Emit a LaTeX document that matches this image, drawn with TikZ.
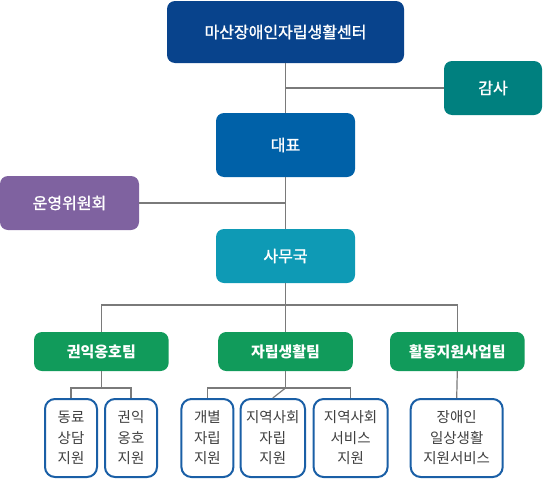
\documentclass[tikz,border=0pt]{standalone}
\usepackage{fontspec}
\setmainfont{Noto Sans CJK KR}
\newfontfamily\medfont{Noto Sans CJK KR}[FakeBold=1.4]
\definecolor{cTop}{HTML}{08438C}
\definecolor{cGam}{HTML}{00807F}
\definecolor{cDae}{HTML}{0061A8}
\definecolor{cUn}{HTML}{7F62A0}
\definecolor{cSa}{HTML}{0E9AB5}
\definecolor{cTeam}{HTML}{119B5B}
\definecolor{cLeaf}{HTML}{1A5FA6}
\definecolor{cLine}{HTML}{7A7A7A}
\definecolor{cTxt}{HTML}{404040}
\tikzset{
  box/.style={rectangle, rounded corners=8pt, inner sep=0pt, text=white, font=\medfont\fontsize{16}{19}\selectfont},
  team/.style={box, fill=cTeam, minimum width=134.6pt, minimum height=39pt, font=\fontsize{15}{18}\selectfont\bfseries},
  leaf/.style={rectangle, rounded corners=10pt, draw=cLeaf, line width=2pt, fill=white, inner sep=0pt,
    minimum height=78pt, text=cTxt, align=center, font=\fontsize{14.5}{20.5}\selectfont},
  conn/.style={draw=cLine, line width=1.2pt}
}
\begin{document}
\begin{tikzpicture}[x=1pt,y=-1pt]
\useasboundingbox (0,0) rectangle (543,479);
\node[box, fill=cTop, minimum width=237pt, minimum height=62pt] (top) at (285.5,32) {마산장애인자립생활센터};
\node[box, fill=cGam, minimum width=98pt, minimum height=54pt] (gam) at (493,88) {감사};
\node[box, fill=cDae, minimum width=139pt, minimum height=64pt] (dae) at (285.5,145) {대표};
\node[box, fill=cUn, minimum width=139pt, minimum height=54pt] (un) at (69.5,203) {운영위원회};
\node[box, fill=cSa, minimum width=139pt, minimum height=54pt] (sa) at (285.5,256) {사무국};
\node[team] (t1) at (101.3,351.5) {권익옹호팀};
\node[team] (t2) at (285.5,351.5) {자립생활팀};
\node[team] (t3) at (457.3,351.5) {활동지원사업팀};
\node[leaf, minimum width=52pt] (l1) at (71,438) {동료\\상담\\지원};
\node[leaf, minimum width=52pt] (l2) at (131,438) {권익\\옹호\\지원};
\node[leaf, minimum width=52pt] (l3) at (207.4,438) {개별\\자립\\지원};
\node[leaf, minimum width=64.4pt] (l4) at (272.8,438) {지역사회\\자립\\지원};
\node[leaf, minimum width=74pt] (l5) at (350.6,438) {지역사회\\서비스\\지원};
\node[leaf, minimum width=92pt] (l6) at (456.7,438) {장애인\\일상생활\\지원서비스};
\coordinate (jg) at (285.5,88);
\coordinate (ju) at (285.5,203);
\coordinate (jb) at (285.5,305);
\coordinate (j1) at (101.3,388);
\coordinate (j2) at (285.5,388);
\draw[conn] (top.south) -- (dae.north);
\draw[conn] (dae.south) -- (sa.north);
\draw[conn] (gam.west) -- (jg);
\draw[conn] (un.east) -- (ju);
\draw[conn] (sa.south) -- (jb);
\draw[conn] (t1.north) |- (jb) -| (t3.north);
\draw[conn] (jb) -- (t2.north);
\draw[conn] (t1.south) -- (j1);
\draw[conn] (l1.north) |- (j1) -| (l2.north);
\draw[conn] (t2.south) -- (j2);
\draw[conn] (l3.north) |- (j2) -| (l5.north);
\draw[conn] (j2) -- (l4.north);
\draw[conn] (t3.south) -- (l6.north);
\end{tikzpicture}
\end{document}
